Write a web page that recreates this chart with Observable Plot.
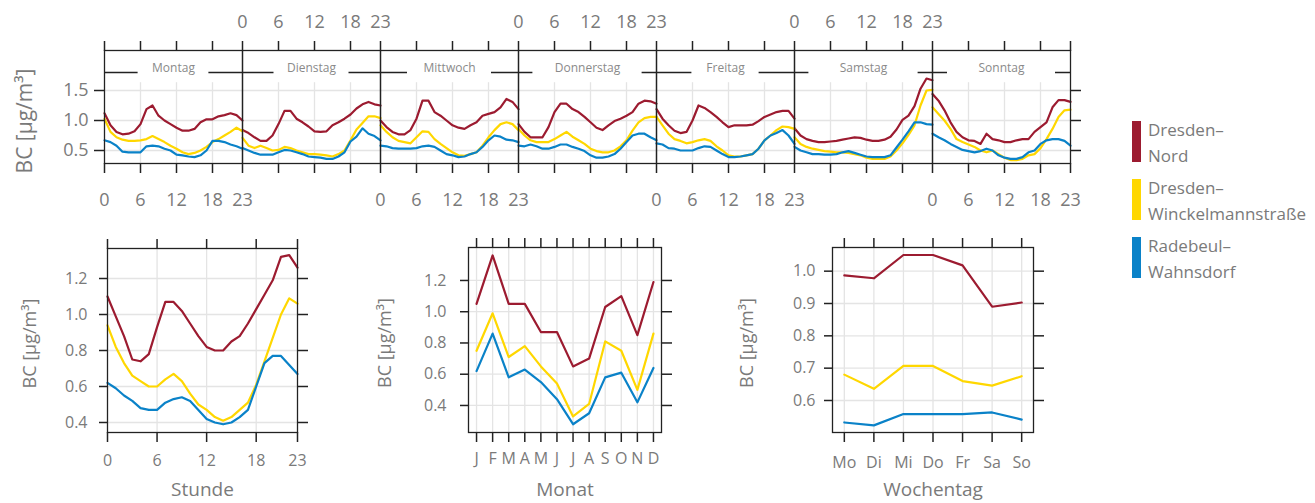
<!DOCTYPE html>
<html><head><meta charset="utf-8">
<script src="https://cdn.jsdelivr.net/npm/d3@7"></script>
<script src="https://cdn.jsdelivr.net/npm/@observablehq/plot@0.6"></script>
<style>
body{margin:0;background:#fff;}
#chart{position:relative;width:1315px;height:503px;overflow:hidden;font-family:"Open Sans",sans-serif;color:#7a7a7a;}
#chart svg{position:absolute;}
.leg{position:absolute;left:1132px;}
.leg .bar{position:absolute;left:0;top:4px;width:9px;height:41px;}
.leg .txt{position:absolute;left:16px;top:0;font-size:17px;line-height:26px;white-space:nowrap;color:#7a7a7a;}
</style></head><body><div id="chart"></div>
<script>
// ---------- data ----------
const stations = ["Dresden–Nord", "Dresden–Winckelmannstraße", "Radebeul–Wahnsdorf"];
const dayNames = ["Montag", "Dienstag", "Mittwoch", "Donnerstag", "Freitag", "Samstag", "Sonntag"];
const dayAbbr = ["Mo", "Di", "Mi", "Do", "Fr", "Sa", "So"];
const monthLabels = ["J", "F", "M", "A", "M", "J", "J", "A", "S", "O", "N", "D"];
const hours = d3.range(24);
const months = d3.range(1, 13);
const weekdays = d3.range(1, 8);
const hourTickLabels = [0, 6, 12, 18, 23];
const yTitle = "BC [µg/m³]";

// day x hour (Montag..Sonntag), 24 values each
const nordDayHour = [
  [1.12,0.92,0.81,0.77,0.78,0.82,0.94,1.19,1.25,1.08,1.00,0.94,0.88,0.83,0.83,0.86,0.97,1.02,1.02,1.07,1.09,1.12,1.09,1.00],
  [0.84,0.79,0.72,0.66,0.66,0.75,0.94,1.16,1.16,1.03,0.97,0.90,0.82,0.81,0.82,0.92,0.97,1.03,1.10,1.20,1.27,1.31,1.27,1.25],
  [1.00,0.89,0.81,0.77,0.77,0.84,1.03,1.33,1.33,1.14,1.08,1.00,0.92,0.88,0.86,0.92,0.97,1.08,1.11,1.14,1.22,1.36,1.31,1.19],
  [0.94,0.81,0.72,0.72,0.72,0.89,1.14,1.28,1.28,1.19,1.14,1.06,0.97,0.88,0.84,0.92,0.99,1.03,1.08,1.14,1.28,1.33,1.32,1.28],
  [1.19,1.03,0.92,0.83,0.79,0.81,1.00,1.25,1.21,1.14,1.06,0.97,0.89,0.92,0.92,0.92,0.93,0.99,1.06,1.10,1.14,1.16,1.16,1.03],
  [0.87,0.75,0.69,0.66,0.64,0.64,0.65,0.66,0.68,0.70,0.72,0.71,0.68,0.66,0.66,0.68,0.73,0.85,1.01,1.08,1.24,1.53,1.70,1.67],
  [1.44,1.33,1.17,0.97,0.81,0.72,0.67,0.66,0.61,0.78,0.69,0.67,0.64,0.64,0.67,0.69,0.69,0.81,0.89,0.97,1.22,1.34,1.34,1.31]
];
const winckelDayHour = [
  [1.03,0.81,0.72,0.68,0.66,0.66,0.67,0.69,0.74,0.69,0.64,0.58,0.53,0.47,0.44,0.46,0.50,0.56,0.64,0.69,0.75,0.81,0.88,0.82],
  [0.71,0.58,0.54,0.58,0.54,0.50,0.51,0.56,0.54,0.50,0.47,0.44,0.44,0.43,0.42,0.40,0.44,0.50,0.67,0.85,0.96,1.07,1.07,1.04],
  [0.92,0.81,0.72,0.66,0.64,0.62,0.72,0.82,0.81,0.69,0.61,0.54,0.47,0.42,0.41,0.44,0.47,0.58,0.72,0.84,0.94,0.97,0.94,0.84],
  [0.86,0.75,0.67,0.64,0.64,0.64,0.69,0.75,0.81,0.73,0.67,0.61,0.53,0.49,0.47,0.47,0.50,0.57,0.67,0.83,0.97,1.04,1.06,1.06],
  [1.06,0.92,0.78,0.69,0.66,0.62,0.64,0.67,0.69,0.66,0.57,0.50,0.42,0.40,0.40,0.42,0.44,0.53,0.67,0.75,0.84,0.90,0.89,0.86],
  [0.72,0.61,0.56,0.53,0.51,0.49,0.48,0.47,0.47,0.46,0.44,0.42,0.38,0.36,0.36,0.36,0.40,0.50,0.62,0.76,0.92,1.25,1.50,1.51],
  [1.22,1.11,1.00,0.86,0.69,0.64,0.60,0.56,0.50,0.47,0.50,0.44,0.38,0.34,0.34,0.36,0.42,0.44,0.54,0.69,0.86,1.06,1.17,1.18]
];
const radebeulDayHour = [
  [0.67,0.64,0.58,0.48,0.47,0.47,0.47,0.57,0.58,0.57,0.53,0.50,0.43,0.42,0.40,0.39,0.42,0.50,0.66,0.66,0.64,0.60,0.57,0.53],
  [0.54,0.50,0.46,0.43,0.43,0.43,0.47,0.51,0.50,0.47,0.44,0.40,0.39,0.38,0.36,0.36,0.40,0.47,0.65,0.73,0.87,0.78,0.74,0.67],
  [0.58,0.57,0.54,0.53,0.53,0.53,0.54,0.57,0.58,0.56,0.50,0.44,0.42,0.39,0.40,0.44,0.47,0.56,0.67,0.75,0.73,0.68,0.67,0.64],
  [0.58,0.57,0.60,0.57,0.53,0.53,0.56,0.60,0.60,0.56,0.53,0.49,0.42,0.38,0.38,0.40,0.44,0.53,0.64,0.75,0.78,0.78,0.72,0.67],
  [0.62,0.60,0.54,0.53,0.50,0.50,0.50,0.54,0.57,0.56,0.50,0.44,0.39,0.39,0.40,0.42,0.44,0.53,0.67,0.75,0.79,0.84,0.75,0.61],
  [0.56,0.50,0.47,0.44,0.44,0.43,0.43,0.44,0.47,0.49,0.46,0.43,0.40,0.39,0.39,0.39,0.42,0.55,0.68,0.82,0.97,0.97,0.94,0.93],
  [0.78,0.72,0.67,0.61,0.56,0.51,0.49,0.47,0.49,0.53,0.50,0.42,0.38,0.36,0.36,0.39,0.47,0.50,0.61,0.67,0.69,0.69,0.66,0.58]
];

// hour of day
const nordHour     = [1.10,0.99,0.88,0.75,0.74,0.78,0.93,1.07,1.07,1.02,0.95,0.88,0.82,0.80,0.80,0.85,0.88,0.95,1.03,1.11,1.19,1.32,1.33,1.26];
const winckelHour  = [0.94,0.82,0.73,0.66,0.63,0.60,0.60,0.64,0.67,0.63,0.56,0.50,0.47,0.43,0.41,0.43,0.47,0.51,0.61,0.74,0.87,1.00,1.09,1.06];
const radebeulHour = [0.62,0.59,0.55,0.52,0.48,0.47,0.47,0.51,0.53,0.54,0.52,0.47,0.42,0.40,0.39,0.40,0.43,0.47,0.60,0.73,0.77,0.77,0.72,0.67];

// month
const nordMonth     = [1.05,1.36,1.05,1.05,0.87,0.87,0.65,0.70,1.03,1.10,0.85,1.19];
const winckelMonth  = [0.75,0.99,0.71,0.78,0.65,0.54,0.33,0.41,0.81,0.75,0.50,0.86];
const radebeulMonth = [0.62,0.86,0.58,0.63,0.55,0.44,0.28,0.35,0.58,0.61,0.42,0.64];

// weekday
const nordWeekday     = [0.987,0.978,1.050,1.050,1.018,0.890,0.903];
const winckelWeekday  = [0.680,0.636,0.707,0.707,0.660,0.646,0.675];
const radebeulWeekday = [0.532,0.523,0.558,0.558,0.558,0.563,0.541];

// ---------- styles ----------
const colors = ["#9c1b30", "#ffd700", "#0a82c8"];
const gray = "#7a7a7a";
const gridColor = "#e4e4e4";
const axisColor = "#222";
const font = "'Open Sans', sans-serif";
const stripGap = [11.8, 12.5, 14, 18.2, 11.2, 18.2, 18]; // width of label gap in strip (hours)

const chart = document.getElementById("chart");
function place(svg, left, top) { svg.style.left = left + "px"; svg.style.top = top + "px"; chart.appendChild(svg); }

// ---------- top: day x hour ----------
const topRows = [];
[nordDayHour, winckelDayHour, radebeulDayHour].forEach((m, s) =>
  m.forEach((vals, d) => vals.forEach((v, h) => topRows.push({station: stations[s], day: d, x: d * 23 + hours[h], value: v}))));
const topY = [0.2833, 2.1667];
const topTicks = d3.range(7).flatMap(d => [0, 6, 12, 18].map(h => d * 23 + h)).concat([161]);
const gridTop = d3.range(7).flatMap(d => [6, 12, 18].map(h => d * 23 + h));
const topLabels = [1, 3, 5].flatMap(d => hourTickLabels.map(h => ({x: d * 23 + h, t: String(h)})));
const botLabels = [0, 2, 4, 6].flatMap(d => hourTickLabels.map(h => ({x: d * 23 + h, t: String(h)})));

const topPlot = Plot.plot({
  width: 1100, height: 215,
  marginLeft: 104, marginRight: 30, marginTop: 50, marginBottom: 52,
  x: {domain: [0, 161]}, y: {domain: topY},
  color: {domain: stations, range: colors},
  style: {fontFamily: font, fontSize: "18px", background: "transparent", overflow: "visible"},
  marks: [
    Plot.ruleY([0.5, 1, 1.5], {stroke: gridColor, strokeWidth: 1.3}),
    Plot.ruleX(gridTop, {y1: topY[0], y2: 1.63, stroke: gridColor, strokeWidth: 1.3}),
    Plot.ruleY([1.8], {stroke: axisColor, strokeWidth: 1.5}),
    Plot.rect(dayNames, {x1: (d, i) => i * 23 + 11.5 - stripGap[i] / 2, x2: (d, i) => i * 23 + 11.5 + stripGap[i] / 2, y1: 1.74, y2: 1.98, fill: "white"}),
    Plot.text(dayNames, {x: (d, i) => i * 23 + 11.5, y: 1.867, text: d => d, fontSize: 12, fill: "#8a8a8a"}),
    Plot.line(topRows, {x: "x", y: "value", z: d => d.station + d.day, stroke: "station", strokeWidth: 2.2}),
    Plot.ruleX(d3.range(1, 7).map(d => d * 23), {stroke: axisColor, strokeWidth: 1.5}),
    Plot.frame({stroke: axisColor, strokeWidth: 1.3}),
    Plot.axisX({anchor: "top", ticks: topTicks, tickSize: 10, tickFormat: () => "", color: axisColor, strokeWidth: 1.5, label: null}),
    Plot.axisX({anchor: "bottom", ticks: topTicks, tickSize: 10, tickFormat: () => "", color: axisColor, strokeWidth: 1.5, label: null}),
    Plot.axisY({anchor: "left", ticks: [0.5, 1, 1.5], tickSize: 10, tickFormat: () => "", color: axisColor, strokeWidth: 1.5, label: null}),
    Plot.axisY({anchor: "right", ticks: [0.5, 1, 1.5], tickSize: 10, tickFormat: () => "", color: axisColor, strokeWidth: 1.5, label: null}),
    Plot.text([0.5, 1, 1.5], {y: d => d, text: d => d.toFixed(1), frameAnchor: "left", dx: -16, textAnchor: "end", lineAnchor: "middle", fontSize: 18, fill: gray}),
    Plot.text(topLabels, {x: "x", text: "t", frameAnchor: "top", dy: -28, lineAnchor: "middle", fontSize: 18, fill: gray}),
    Plot.text(botLabels, {x: "x", text: "t", frameAnchor: "bottom", dy: 37, lineAnchor: "middle", fontSize: 18, fill: gray}),
    Plot.text([yTitle], {text: d => d, frameAnchor: "left", dx: -79, dy: 14, rotate: -90, textAnchor: "middle", lineAnchor: "middle", fontSize: 21, fill: gray})
  ]
});
place(topPlot, 0, 0);

// ---------- bottom panels ----------
function smallPanel(o) {
  const rows = [];
  o.series.forEach((vals, s) => vals.forEach((v, i) => rows.push({station: stations[s], x: o.xs[i], value: v})));
  return Plot.plot({
    width: o.width, height: 283,
    marginLeft: o.ml, marginRight: o.width - o.frameRight, marginTop: o.mt, marginBottom: 71,
    x: {domain: o.xDomain}, y: {domain: o.yDomain},
    color: {domain: stations, range: colors},
    style: {fontFamily: font, fontSize: "16px", background: "transparent", overflow: "visible"},
    marks: [
      Plot.ruleX(o.xGrid, {stroke: gridColor, strokeWidth: 1.3}),
      Plot.ruleY(o.yTicks, {stroke: gridColor, strokeWidth: 1.3}),
      Plot.line(rows, {x: "x", y: "value", z: "station", stroke: "station", strokeWidth: 2.2}),
      Plot.frame({stroke: axisColor, strokeWidth: 1.3}),
      Plot.axisX({anchor: "top", ticks: o.xTicks, tickSize: 10, tickFormat: () => "", color: axisColor, strokeWidth: 1.5, label: null}),
      Plot.axisX({anchor: "bottom", ticks: o.xTicks, tickSize: 10, tickFormat: () => "", color: axisColor, strokeWidth: 1.5, label: null}),
      Plot.axisY({anchor: "left", ticks: o.yTicks, tickSize: 8, tickFormat: () => "", color: axisColor, strokeWidth: 1.5, label: null}),
      Plot.axisY({anchor: "right", ticks: o.yTicks, tickSize: 10, tickFormat: () => "", color: axisColor, strokeWidth: 1.5, label: null}),
      Plot.text(o.xTicks, {x: d => d, text: o.xFormat, frameAnchor: "bottom", dy: o.xLabDy, lineAnchor: "middle", fontSize: 16, fill: gray}),
      Plot.text(o.yTicks, {y: d => d, text: d => d.toFixed(1), frameAnchor: "left", dx: -o.yLabGap, textAnchor: "end", lineAnchor: "middle", fontSize: 16, fill: gray}),
      Plot.text([o.xTitle], {text: d => d, frameAnchor: "bottom", dy: 57, lineAnchor: "middle", fontSize: 19, fill: gray}),
      Plot.text([yTitle], {text: d => d, frameAnchor: "left", dx: o.yTitleDx, dy: 3, rotate: -90, textAnchor: "middle", lineAnchor: "middle", fontSize: 18, fill: gray})
    ]
  });
}

place(smallPanel({
  width: 330, ml: 107, frameRight: 297, mt: 28,
  xDomain: [0, 23], yDomain: [0.3444, 1.3667],
  xs: hours, series: [nordHour, winckelHour, radebeulHour],
  xTicks: hourTickLabels, xGrid: [6, 12, 18], xFormat: d => String(d),
  yTicks: [0.4, 0.6, 0.8, 1.0, 1.2], xLabDy: 28, yLabGap: 20, yTitleDx: -77, xTitle: "Stunde"
}), 0, 220);

place(smallPanel({
  width: 370, ml: 138, frameRight: 331, mt: 27,
  xDomain: [0.5, 12.5], yDomain: [0.227, 1.411],
  xs: months, series: [nordMonth, winckelMonth, radebeulMonth],
  xTicks: months, xGrid: months, xFormat: d => monthLabels[d - 1],
  yTicks: [0.4, 0.6, 0.8, 1.0, 1.2], xLabDy: 26, yLabGap: 22, yTitleDx: -83, xTitle: "Monat"
}), 330, 220);

place(smallPanel({
  width: 400, ml: 132, frameRight: 333, mt: 27,
  xDomain: [0.6, 7.4], yDomain: [0.501, 1.0732],
  xs: weekdays, series: [nordWeekday, winckelWeekday, radebeulWeekday],
  xTicks: weekdays, xGrid: weekdays, xFormat: d => dayAbbr[d - 1],
  yTicks: [0.6, 0.7, 0.8, 0.9, 1.0], xLabDy: 30, yLabGap: 17, yTitleDx: -85, xTitle: "Wochentag"
}), 700, 220);

// ---------- legend ----------
stations.forEach((s, i) => {
  const div = document.createElement("div");
  div.className = "leg";
  div.style.top = (117 + i * 58) + "px";
  const [a, b] = s.split("–");
  div.innerHTML = `<div class="bar" style="background:${colors[i]}"></div><div class="txt">${a}–<br>${b}</div>`;
  chart.appendChild(div);
});
</script>
</body></html>
